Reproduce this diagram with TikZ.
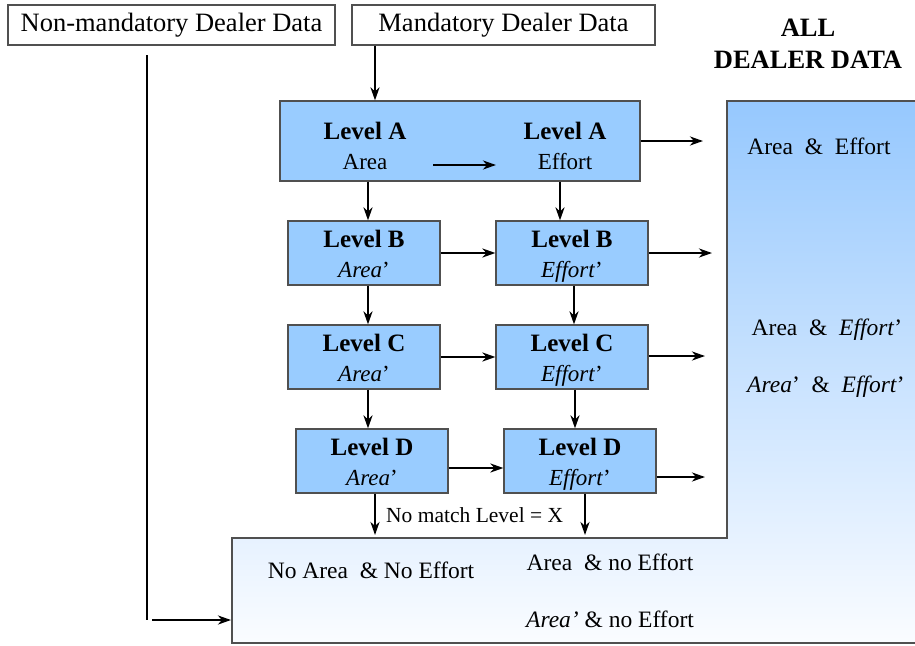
\documentclass[tikz,border=0pt]{standalone}
\usepackage{fontspec}
\setmainfont{Liberation Serif}
\usetikzlibrary{arrows.meta,calc}
\definecolor{boxblue}{RGB}{153,204,255}
\definecolor{edgegray}{RGB}{80,80,80}
\definecolor{shadetop}{RGB}{150,200,254}
\definecolor{shadebot}{RGB}{250,252,255}
\newcommand{\secl}[1]{{\fontsize{23}{31}\selectfont\vphantom{Afg}#1}}
\newcommand{\firl}[1]{\textbf{\rule{0pt}{23pt}\vphantom{Lg}#1}}
\begin{document}
\begin{tikzpicture}[x=1pt,y=-1pt,
 lvl/.style={draw=edgegray,line width=1.2pt,fill=boxblue,minimum width=152pt,minimum height=64pt,inner sep=0pt,align=center,font=\fontsize{25}{30}\selectfont},
 bigbox/.style={draw=edgegray,line width=1.2pt,fill=boxblue,minimum width=360pt,minimum height=80pt,inner sep=0pt},
 intxt/.style={inner sep=0pt,align=center,font=\fontsize{25}{30}\selectfont},
 topbox/.style={draw=edgegray,line width=1.2pt,fill=white,minimum height=40pt,inner sep=0pt,font=\fontsize{26.5}{30}\selectfont},
 arr/.style={line width=2.8pt,-{Stealth[length=13pt,width=9pt,inset=4pt]}},
 txt/.style={inner sep=0pt,font=\fontsize{23.5}{28}\selectfont}
]
\useasboundingbox (0,0) rectangle (915,645);
% shaded output region
\shade[top color=shadetop,bottom color=shadebot] (727,101) -- (915,101) -- (915,643) -- (232,643) -- (232,538) -- (727,538) -- cycle;
\draw[edgegray,line width=1.2pt] (915,101) -- (727,101) -- (727,538) -- (232,538) -- (232,643) -- (915,643);

% top boxes
\node[topbox,minimum width=327pt] (nm) at (171.5,25) {Non-mandatory Dealer Data};
\node[topbox,minimum width=303pt] (md) at (503.5,25) {Mandatory Dealer Data};
\node[inner sep=0pt,align=center,font=\bfseries\fontsize{26.5}{32}\selectfont] (all) at (808,44) {ALL\\DEALER DATA};

% level A
\node[bigbox] (la) at (460,141) {};
\node[intxt] (la1) at (365,145) {\firl{Level A}\\\secl{Area}};
\node[intxt] (la2) at (565,145) {\firl{Level A}\\\secl{Effort}};
\coordinate (ia1) at (433,165);
\coordinate (ia2) at (496,165);
\draw[arr] (ia1) -- (ia2);

% levels B, C, D
\node[lvl] (lb) at (364,253) {\firl{Level B}\\\secl{\textit{Area}’}};
\node[lvl] (rb) at (572,253) {\firl{Level B}\\\secl{\textit{Effort}’}};
\node[lvl] (lc) at (364,357) {\firl{Level C}\\\secl{\textit{Area}’}};
\node[lvl] (rc) at (572,357) {\firl{Level C}\\\secl{\textit{Effort}’}};
\node[lvl] (ld) at (372,461) {\firl{Level D}\\\secl{\textit{Area}’}};
\node[lvl] (rd) at (580,461) {\firl{Level D}\\\secl{\textit{Effort}’}};

% input arrows
\coordinate (mx) at (375,0);
\draw[arr] (mx |- md.south) -- (mx |- la.north);
\coordinate (nx1) at (147,55);
\coordinate (nx2) at (231,620);
\draw[line width=2.8pt] (nx1) -- (nx1 |- nx2);
\draw[arr] ($(nx1 |- nx2)+(5,0)$) -- (nx2);

% vertical arrows
\draw[arr] ($(la.south -| lb.north)+(4,0)$) -- ($(lb.north)+(4,0)$);
\draw[arr] ($(la.south -| rb.north)+(-12,0)$) -- ($(rb.north)+(-12,0)$);
\draw[arr] ($(lb.south)+(4,0)$) -- ($(lc.north)+(4,0)$);
\draw[arr] ($(rb.south)+(2,0)$) -- ($(rc.north)+(2,0)$);
\draw[arr] ($(lc.south)+(4,0)$) -- ($(ld.north)+(-4,0)$);
\draw[arr] ($(rc.south)+(3,0)$) -- ($(rd.north)+(-5,0)$);
\coordinate (bl) at (375,535);
\coordinate (br) at (585,535);
\draw[arr] ($(ld.south)+(3,0)$) -- (bl);
\draw[arr] ($(rd.south)+(5,0)$) -- (br);
\node[inner sep=0pt,anchor=west,font=\fontsize{21.5}{25}\selectfont] (nomatch) at (386,515) {No match Level = X};

% horizontal arrows
\draw[arr] (lb.east) -- (rb.west);
\draw[arr] (lc.east) -- (rc.west);
\draw[arr] ($(ld.east)+(0,7)$) -- ($(rd.west)+(0,7)$);
\coordinate (oa) at (703,141);
\coordinate (ob) at (712,253);
\coordinate (oc) at (705,356);
\coordinate (od) at (705,477);
\draw[arr] (la.east) -- (oa);
\draw[arr] (rb.east) -- (ob);
\draw[arr] ($(rc.east)+(0,-1)$) -- (oc);
\draw[arr] ($(rd.east)+(0,16)$) -- (od);

% output texts
\node[txt] (t1) at (819,146) {Area\ \ \&\ \ Effort};
\node[txt] (t2) at (827,330) {Area\ \ \&\ \ \textit{Effort}’};
\node[txt] (t3) at (826,387) {\textit{Area}’\ \ \&\ \ \textit{Effort}’};
\node[txt] (t4) at (371,570) {No Area\ \ \& No Effort};
\node[txt] (t5) at (610,562) {Area\ \ \& no Effort};
\node[txt] (t6) at (610,619) {\textit{Area’}\ \& no Effort};
\end{tikzpicture}
\end{document}
